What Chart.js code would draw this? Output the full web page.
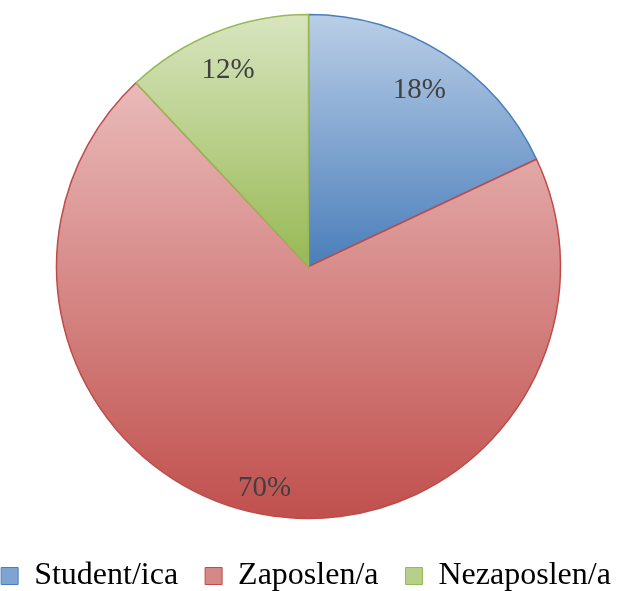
<!DOCTYPE html>
<html>
<head>
<meta charset="utf-8">
<script src="https://cdn.jsdelivr.net/npm/chart.js@4"></script>
<style>
  html, body { margin: 0; padding: 0; background: #fff; }
  #wrap { width: 617px; height: 591px; }
</style>
</head>
<body>
<div id="wrap"><canvas id="pieChart"></canvas></div>
<script>
// data
const categories = ['Student/ica', 'Zaposlen/a', 'Nezaposlen/a'];
const shares = [18, 70, 12];

// look
const topColors = ['#bacee6', '#e9bab9', '#d8e5bf'];
const bottomColors = ['#4a7ebb', '#c0504d', '#98b954'];
const edgeColors = ['#4a7ebb', '#be4b48', '#98b954'];
const legendFill = ['#7fa3d2', '#d58987', '#b6cf8a'];
const labelRadius = [0.835, 0.89, 0.845];

// each slice gets a vertical gradient over its own bounding box
const sliceGradient = {
    id: 'sliceGradient',
    beforeDatasetsDraw(chart) {
        const ctx = chart.ctx;
        chart.getDatasetMeta(0).data.forEach((arc, i) => {
            const { x, y, startAngle, endAngle, outerRadius } = arc.getProps(['x', 'y', 'startAngle', 'endAngle', 'outerRadius'], true);
            let ys = [y, y + Math.sin(startAngle) * outerRadius, y + Math.sin(endAngle) * outerRadius];
            [Math.PI / 2, -Math.PI / 2, 3 * Math.PI / 2].forEach(a => {
                if (a > startAngle && a < endAngle) ys.push(y + Math.sin(a) * outerRadius);
            });
            const g = ctx.createLinearGradient(0, Math.min(...ys), 0, Math.max(...ys));
            g.addColorStop(0, topColors[i]);
            g.addColorStop(1, bottomColors[i]);
            arc.options.backgroundColor = g;
        });
    }
};

// percentage labels
const pctLabels = {
    id: 'pctLabels',
    afterDatasetsDraw(chart) {
        const ctx = chart.ctx;
        ctx.save();
        ctx.font = '29px "Liberation Serif", "Times New Roman", serif';
        ctx.fillStyle = '#404040';
        ctx.textAlign = 'center';
        ctx.textBaseline = 'middle';
        chart.getDatasetMeta(0).data.forEach((arc, i) => {
            const { x, y, startAngle, endAngle, outerRadius } = arc.getProps(['x', 'y', 'startAngle', 'endAngle', 'outerRadius'], true);
            const mid = (startAngle + endAngle) / 2;
            const r = outerRadius * labelRadius[i];
            ctx.fillText(shares[i] + '%', x + Math.cos(mid) * r - 2, y + Math.sin(mid) * r + 2);
        });
        ctx.restore();
    }
};

new Chart(document.getElementById('pieChart'), {
    type: 'pie',
    data: {
        labels: categories,
        datasets: [{
            data: shares,
            backgroundColor: legendFill,
            borderColor: edgeColors,
            borderWidth: 1.5,
            borderJoinStyle: 'round',
            radius: 252
        }]
    },
    options: {
        responsive: true,
        maintainAspectRatio: false,
        animation: false,
        layout: { padding: { top: -9, left: -27, right: -22, bottom: -11 } },
        plugins: {
            tooltip: { enabled: false },
            legend: {
                position: 'bottom',
                labels: {
                    font: { family: '"Liberation Serif", "Times New Roman", serif', size: 32 },
                    color: '#000',
                    boxWidth: 17,
                    boxHeight: 17,
                    padding: 27,
                    generateLabels(chart) {
                        return categories.map((c, i) => ({
                            text: c,
                            fillStyle: legendFill[i],
                            strokeStyle: edgeColors[i],
                            lineWidth: 1,
                            index: i
                        }));
                    }
                }
            }
        }
    },
    plugins: [sliceGradient, pctLabels]
});
</script>
</body>
</html>
